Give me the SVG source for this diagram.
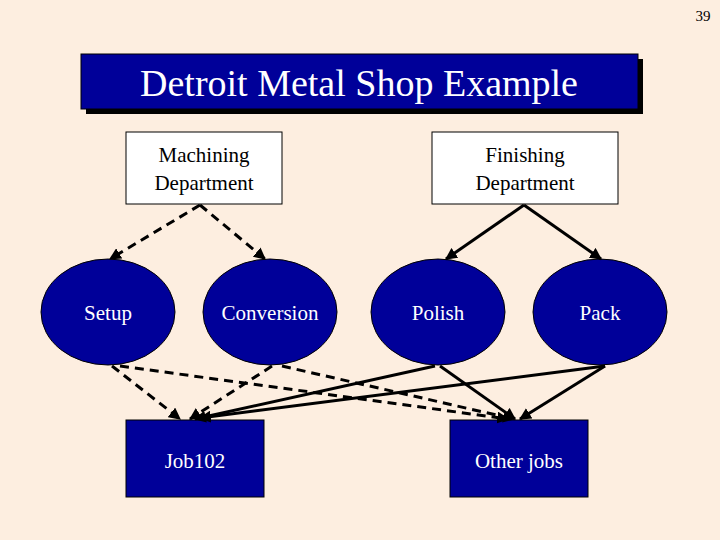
<svg xmlns="http://www.w3.org/2000/svg" width="720" height="540" viewBox="0 0 720 540" font-family="'Liberation Serif', 'Times New Roman', serif">
<defs>
<marker id="ah" viewBox="0 0 10 10" refX="9" refY="5" markerWidth="4" markerHeight="4" orient="auto"><path d="M0,0L10,5L0,10z" fill="#000"/></marker>
<style>
text{text-anchor:middle}
.nav{fill:#000099;stroke:#000;stroke-width:1}
.wt{fill:#fff;font-size:21px}
.bt{fill:#000;font-size:21px}
.dep{fill:#fff;stroke:#000;stroke-width:1}
.c{stroke:#000;stroke-width:3;fill:none;marker-end:url(#ah)}
.d{stroke-dasharray:9,6}
</style>
</defs>
<rect width="720" height="540" fill="#fdeee0"/>
<text x="703" y="21" fill="#000" font-size="15">39</text>
<g id="title">
<rect x="86" y="59" width="557" height="55" fill="#000"/>
<rect x="81" y="54" width="557" height="55" class="nav"/>
<text x="359" y="96" fill="#fff" font-size="38">Detroit Metal Shop Example</text>
</g>
<g id="machining"><rect x="126" y="132" width="156" height="72" class="dep"/><text x="204" y="162" class="bt">Machining</text><text x="204" y="190" class="bt">Department</text></g>
<g id="finishing"><rect x="432" y="132" width="186" height="72" class="dep"/><text x="525" y="162" class="bt">Finishing</text><text x="525" y="190" class="bt">Department</text></g>
<g id="setup"><ellipse cx="108" cy="312" rx="67" ry="53" class="nav"/><text x="108" y="320" class="wt">Setup</text></g>
<g id="conversion"><ellipse cx="270" cy="312" rx="67" ry="53" class="nav"/><text x="270" y="320" class="wt">Conversion</text></g>
<g id="polish"><ellipse cx="438" cy="312" rx="67" ry="53" class="nav"/><text x="438" y="320" class="wt">Polish</text></g>
<g id="pack"><ellipse cx="600" cy="312" rx="67" ry="53" class="nav"/><text x="600" y="320" class="wt">Pack</text></g>
<g id="job102"><rect x="126" y="420" width="138" height="77" class="nav"/><text x="195" y="468" class="wt">Job102</text></g>
<g id="otherjobs"><rect x="450" y="420" width="138" height="77" class="nav"/><text x="519" y="468" class="wt">Other jobs</text></g>
<g id="connectors">
<line x1="200" y1="205" x2="110" y2="259" class="c d"/>
<line x1="200" y1="205" x2="265" y2="259" class="c d"/>
<line x1="524" y1="205" x2="446" y2="259" class="c"/>
<line x1="524" y1="205" x2="601" y2="259" class="c"/>
<line x1="112" y1="366" x2="180" y2="419" class="c d"/>
<line x1="120" y1="366" x2="508" y2="419" class="c d"/>
<line x1="272" y1="366" x2="190" y2="419" class="c d"/>
<line x1="282" y1="366" x2="514" y2="419" class="c d"/>
<line x1="435" y1="366" x2="195" y2="419" class="c"/>
<line x1="440" y1="366" x2="515" y2="419" class="c"/>
<line x1="605" y1="366" x2="200" y2="418" class="c"/>
<line x1="605" y1="366" x2="520" y2="419" class="c"/>
</g>
</svg>
